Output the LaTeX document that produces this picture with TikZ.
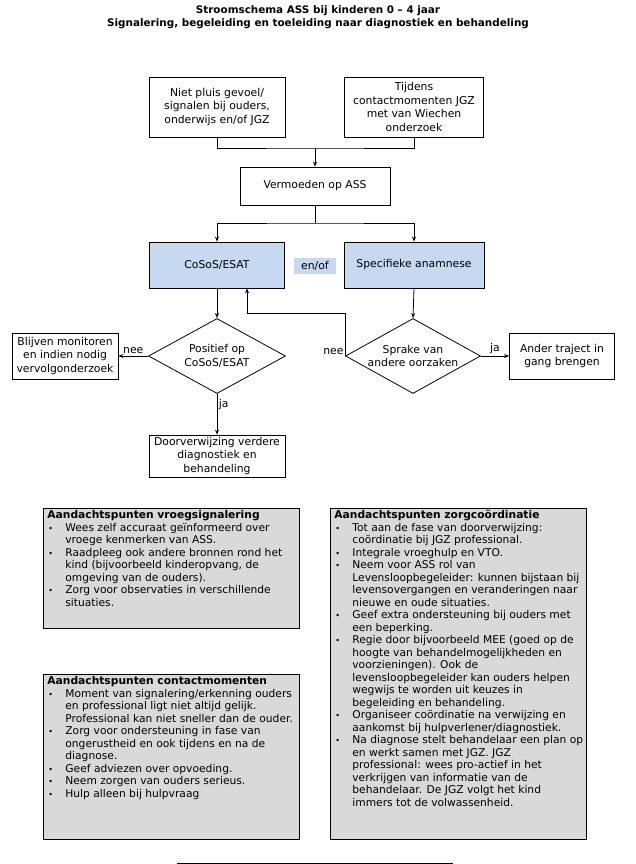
\documentclass[tikz,border=0pt]{standalone}
\usepackage{fontspec}
\setmainfont{DejaVu Sans}
\usetikzlibrary{positioning,arrows.meta,shapes.geometric}
\definecolor{vraag}{HTML}{C6D9F1}
\definecolor{punt}{HTML}{D9D9D9}
\newcommand{\bul}{\makebox[20pt][l]{\hspace{3pt}{\fontsize{8}{8}\selectfont\textbullet}}}
\newcommand{\ins}{\hspace*{20pt}}

\begin{document}
\begin{tikzpicture}[x=1pt, y=-1pt,
  >={Stealth[length=5pt,width=4pt]},
  line/.style={draw, line width=0.8pt},
  box/.style={draw, line width=0.8pt, align=center, inner sep=0pt, font=\fontsize{10.8}{13.5}\selectfont},
  ask/.style={box, fill=vraag},
  choice/.style={box, diamond, aspect=1.8},
  lab/.style={font=\fontsize{10.8}{12}\selectfont, inner sep=1.5pt},
  note/.style={draw, line width=0.8pt, fill=punt, anchor=north west, inner xsep=2pt, inner ysep=2pt, font=\fontsize{10.7}{12.5}\selectfont}]
\useasboundingbox (0,0) rectangle (636,864);
\node[font=\bfseries\fontsize{10.4}{13}\selectfont, align=center] (titel) at (318,17.5) {Stroomschema ASS bij kinderen 0 – 4 jaar\\Signalering, begeleiding en toeleiding naar diagnostiek en behandeling};

\node[box, minimum width=136pt, minimum height=60pt] (a) at (217,107) {Niet pluis gevoel/\\signalen bij ouders,\\onderwijs en/of JGZ};
\node[box, minimum width=139pt, minimum height=60pt] (b) at (414,107) {Tijdens\\contactmomenten JGZ\\met van Wiechen\\onderzoek};
\node[box, minimum width=150pt, minimum height=38pt] (v) at (315,186) {Vermoeden op ASS};
\node[ask, minimum width=135pt, minimum height=46pt] (c) at (217,265) {CoSoS/ESAT};
\node[ask, minimum width=140pt, minimum height=46pt] (s) at (414,265) {Specifieke anamnese};
\node[ask, draw=none, minimum width=42pt, minimum height=16pt] (enof) at (315,266) {en/of};
\node[choice, minimum width=137pt, minimum height=75pt] (d1) at (217,356) {Positief op\\CoSoS/ESAT};
\node[choice, minimum width=135pt, minimum height=75pt] (d2) at (413,356) {Sprake van\\andere oorzaken};
\node[box, minimum width=106pt, minimum height=46pt] (m) at (65,356) {Blijven monitoren\\en indien nodig\\vervolgonderzoek};
\node[box, minimum width=105pt, minimum height=46pt] (t) at (562,356) {Ander traject in\\gang brengen};
\node[box, minimum width=136pt, minimum height=42pt] (r) at (217,456) {Doorverwijzing verdere\\diagnostiek en\\behandeling};

\coordinate (j1) at (315,148);
\coordinate (j2) at (315,223);
\coordinate (fb) at (247,313);
\draw[line] (a.south) |- (j1) -| (b.south);
\draw[line, ->] (j1) -- (v.north);
\draw[line] (v.south) -- (j2);
\draw[line, <->] (c.north) |- (j2) -| (s.north);
\draw[line, ->] (c.south) -- (d1.north);
\draw[line, ->] (s.south) -- (d2.north);
\draw[line, ->] (d1.west) -- node[lab, above] {nee} (m.east);
\draw[line, ->] (d1.south) -- node[lab, right, pos=0.25] {ja} (r.north);
\draw[line, ->] (d2.east) -- node[lab, above] {ja} (t.west);
\draw[line, ->] (d2.west) |- (fb) -- (fb |- c.south);
\node[lab, above left] (nee2) at (d2.west) {nee};

\node[note] (n1) at (43,508) {\begin{minipage}[t][116pt][t]{252pt}\raggedright
\hspace*{2pt}\textbf{Aandachtspunten vroegsignalering}\\
\bul Wees zelf accuraat geïnformeerd over\\
\ins vroege kenmerken van ASS.\\
\bul Raadpleeg ook andere bronnen rond het\\
\ins kind (bijvoorbeeld kinderopvang, de\\
\ins omgeving van de ouders).\\
\bul Zorg voor observaties in verschillende\\
\ins situaties.
\end{minipage}};
\node[note] (n2) at (43,674) {\begin{minipage}[t][161pt][t]{252pt}\raggedright
\hspace*{2pt}\textbf{Aandachtspunten contactmomenten}\\
\bul Moment van signalering/erkenning ouders\\
\ins en professional ligt niet altijd gelijk.\\
\ins Professional kan niet sneller dan de ouder.\\
\bul Zorg voor ondersteuning in fase van\\
\ins ongerustheid en ook tijdens en na de\\
\ins diagnose.\\
\bul Geef adviezen over opvoeding.\\
\bul Neem zorgen van ouders serieus.\\
\bul Hulp alleen bij hulpvraag
\end{minipage}};
\node[note] (n3) at (330,508) {\begin{minipage}[t][327pt][t]{252pt}\raggedright
\hspace*{2pt}\textbf{Aandachtspunten zorgcoördinatie}\\
\bul Tot aan de fase van doorverwijzing:\\
\ins coördinatie bij JGZ professional.\\
\bul Integrale vroeghulp en VTO.\\
\bul Neem voor ASS rol van\\
\ins Levensloopbegeleider: kunnen bijstaan bij\\
\ins levensovergangen en veranderingen naar\\
\ins nieuwe en oude situaties.\\
\bul Geef extra ondersteuning bij ouders met\\
\ins een beperking.\\
\bul Regie door bijvoorbeeld MEE (goed op de\\
\ins hoogte van behandelmogelijkheden en\\
\ins voorzieningen). Ook de\\
\ins levensloopbegeleider kan ouders helpen\\
\ins wegwijs te worden uit keuzes in\\
\ins begeleiding en behandeling.\\
\bul Organiseer coördinatie na verwijzing en\\
\ins aankomst bij hulpverlener/diagnostiek.\\
\bul Na diagnose stelt behandelaar een plan op\\
\ins en werkt samen met JGZ. JGZ\\
\ins professional: wees pro-actief in het\\
\ins verkrijgen van informatie van de\\
\ins behandelaar. De JGZ volgt het kind\\
\ins immers tot de volwassenheid.
\end{minipage}};

\coordinate (fl) at (177,863);
\coordinate (fr) at (453,863);
\draw[line] (fl) -- (fr);
\end{tikzpicture}
\end{document}
